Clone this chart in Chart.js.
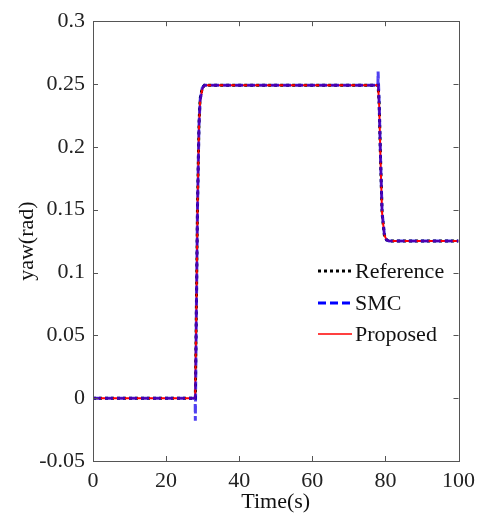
<!DOCTYPE html>
<html>
<head>
<meta charset="utf-8">
<script src="https://cdn.jsdelivr.net/npm/chart.js@4/dist/chart.umd.min.js"></script>
<style>
  html, body { margin: 0; padding: 0; background: #fff; }
  #wrap { width: 482px; height: 519px; }
</style>
</head>
<body>
<div id="wrap"><canvas id="yawChart" width="482" height="519"></canvas></div>
<script>
// --- data ---
const timeSec = [0, 27.95, 28.0, 28.3, 28.6, 29.0, 29.3, 29.9, 30.5, 77.95, 78.0, 78.3, 78.7, 79.1, 79.7, 80.3, 81, 100];
const yawReference = [0, 0, 0, 0.076, 0.155, 0.218, 0.238, 0.247, 0.249, 0.249, 0.249, 0.234, 0.187, 0.147, 0.130, 0.126, 0.125, 0.125];
const yawSMC = [0, 0, -0.018, 0.074, 0.153, 0.217, 0.237, 0.247, 0.249, 0.249, 0.26, 0.235, 0.188, 0.148, 0.131, 0.126, 0.125, 0.125];
const yawProposed = [0, 0, 0, 0.075, 0.153, 0.216, 0.236, 0.246, 0.249, 0.249, 0.249, 0.233, 0.186, 0.147, 0.130, 0.126, 0.125, 0.125];

const seriesNames = ['Reference', 'SMC', 'Proposed'];
const xTicks = [0, 20, 40, 60, 80, 100];
const yTicks = [-0.05, 0, 0.05, 0.1, 0.15, 0.2, 0.25, 0.3];

const SERIF = 'Liberation Serif';
Chart.defaults.font.family = SERIF;

function toPoints(ys) {
    return timeSec.map((t, i) => ({ x: t, y: ys[i] }));
}

// legend look (drawn inside the axes, like the matlab one)
const legendStyle = [
    { color: '#000000', width: 3, dash: [3, 3] },
    { color: '#0000ff', width: 3, dash: [8, 4] },
    { color: '#ff0000', width: 1.5, dash: [] }
];

// frame, inward ticks on all four sides, and the legend
const matlabAxes = {
    id: 'matlabAxes',
    afterDraw(chart) {
        const { ctx, chartArea: a, scales } = chart;
        ctx.save();
        ctx.strokeStyle = '#555';
        ctx.lineWidth = 1;
        ctx.strokeRect(Math.round(a.left) + 0.5, Math.round(a.top) + 0.5, Math.round(a.right - a.left), Math.round(a.bottom - a.top));

        const len = 5;
        ctx.beginPath();
        xTicks.forEach(v => {
            const px = Math.round(scales.x.getPixelForValue(v)) + 0.5;
            ctx.moveTo(px, a.bottom); ctx.lineTo(px, a.bottom - len);
            ctx.moveTo(px, a.top); ctx.lineTo(px, a.top + len);
        });
        yTicks.forEach(v => {
            const py = Math.round(scales.y.getPixelForValue(v)) + 0.5;
            ctx.moveTo(a.left, py); ctx.lineTo(a.left + len, py);
            ctx.moveTo(a.right, py); ctx.lineTo(a.right - len, py);
        });
        ctx.stroke();

        // legend
        ctx.font = '22px ' + SERIF;
        ctx.textBaseline = 'middle';
        ctx.fillStyle = '#111';
        const rows = [271, 303, 334];
        seriesNames.forEach((name, i) => {
            const s = legendStyle[i];
            ctx.beginPath();
            ctx.setLineDash(s.dash);
            ctx.strokeStyle = s.color;
            ctx.lineWidth = s.width;
            ctx.moveTo(318, rows[i]);
            ctx.lineTo(352, rows[i]);
            ctx.stroke();
            ctx.setLineDash([]);
            ctx.fillText(name, 355, rows[i] + 1);
        });
        ctx.restore();
    }
};

const ctx = document.getElementById('yawChart').getContext('2d');
const yawChart = new Chart(ctx, {
    type: 'line',
    data: {
        datasets: [
            { label: seriesNames[0], data: toPoints(yawReference), borderColor: '#000', borderWidth: 3, borderDash: [3, 3], order: 3 },
            { label: seriesNames[2], data: toPoints(yawProposed), borderColor: '#ff0000', borderWidth: 2, order: 2 },
            { label: seriesNames[1], data: toPoints(yawSMC), borderColor: 'rgba(20,0,235,0.75)', borderWidth: 3, borderDash: [8, 4], order: 1 }
        ]
    },
    options: {
        responsive: false,
        animation: false,
        elements: { point: { radius: 0 }, line: { tension: 0 } },
        layout: { padding: { top: 17, right: 20, left: 0, bottom: 0 } },
        plugins: { legend: { display: false }, tooltip: { enabled: false } },
        scales: {
            x: {
                type: 'linear', min: 0, max: 100,
                afterFit(scale) { scale.height = 58; },
                grid: { display: false, drawTicks: false },
                border: { display: false },
                ticks: { stepSize: 20, padding: 7, color: '#222', font: { family: SERIF, size: 22 }, maxRotation: 0 },
                title: { display: true, text: 'Time(s)', color: '#111', font: { family: SERIF, size: 22 }, padding: { top: 0, bottom: 4 } }
            },
            y: {
                min: -0.05, max: 0.3,
                afterFit(scale) { scale.width = 93; },
                grid: { display: false, drawTicks: false },
                border: { display: false },
                ticks: {
                    stepSize: 0.05, padding: 8, color: '#222', font: { family: SERIF, size: 22 },
                    callback: v => String(Number(v.toFixed(2)))
                },
                title: { display: true, text: 'yaw(rad)', color: '#111', font: { family: SERIF, size: 22 }, padding: { top: 14, bottom: 0 } }
            }
        }
    },
    plugins: [matlabAxes]
});
</script>
</body>
</html>
